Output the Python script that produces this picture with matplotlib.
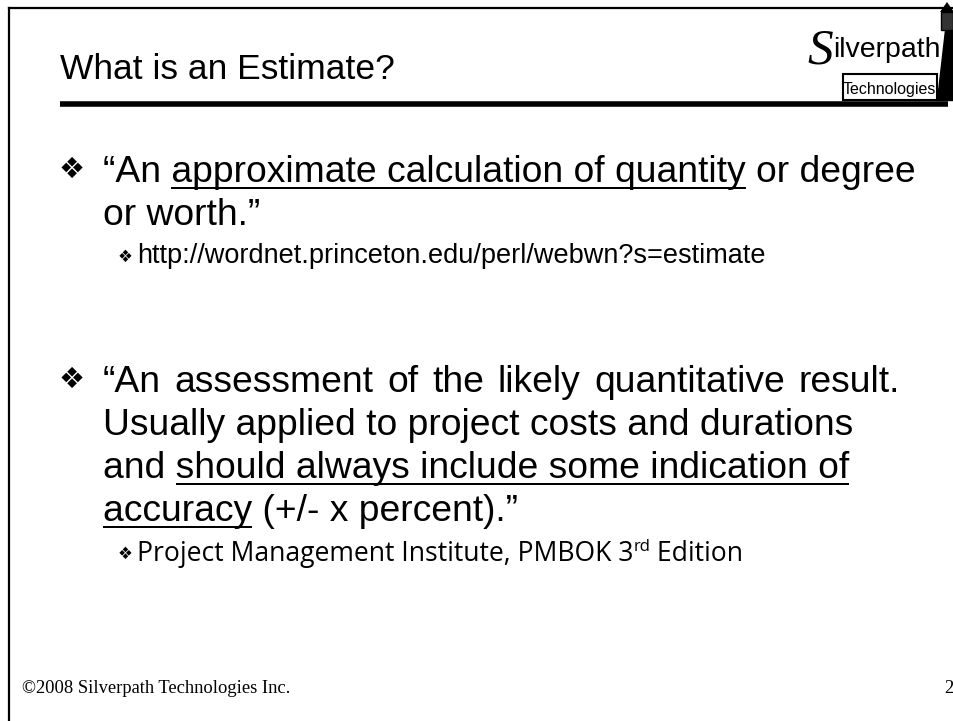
import matplotlib
matplotlib.use("Agg")
import matplotlib.pyplot as plt
from matplotlib.patches import Rectangle, Polygon

# ---- slide content ----
title = "What is an Estimate?"
bullet1_lines = [
    [("\u201cAn ", False), ("approximate calculation of quantity", True), (" or degree", False)],
    [("or worth.\u201d", False)],
]
sub1 = "http://wordnet.princeton.edu/perl/webwn?s=estimate"
bullet2_lines = [
    [("\u201cAn assessment of the likely quantitative result.", False)],
    [("Usually applied to project costs and durations", False)],
    [("and ", False), ("should always include some indication of", True)],
    [("accuracy", True), (" (+/- x percent).\u201d", False)],
]
sub2_parts = ["Project Management Institute, PMBOK 3", "rd", " Edition"]
footer = "\u00a92008 Silverpath Technologies Inc."
page_no = "2"
logo_main = ("S", "ilverpath")
logo_sub = "Technologies"

W, H = 954, 721
fig = plt.figure(figsize=(W / 100, H / 100), dpi=100)
ax = fig.add_axes([0, 0, 1, 1])
ax.set_xlim(0, W)
ax.set_ylim(H, 0)
ax.axis("off")
renderer = fig.canvas.get_renderer()

SANS = ["Liberation Sans", "DejaVu Sans"]


def width(s, **kw):
    t1 = ax.text(0, 0, s + "|", **kw)
    t2 = ax.text(0, 0, "|", **kw)
    w = t1.get_window_extent(renderer).width - t2.get_window_extent(renderer).width
    t1.remove()
    t2.remove()
    return w


def draw_line(x, y, runs, size, ul_off=6, ul_lw=2.0, target=None):
    full = "".join(r[0] for r in runs)
    kw = dict(family=SANS, fontsize=size)
    if target is None:
        ax.text(x, y, full, va="baseline", ha="left", color="black", **kw)
        prefix = ""
        for txt, ul in runs:
            start = width(prefix, **kw) if prefix else 0.0
            prefix += txt
            end = width(prefix, **kw)
            if ul:
                ax.plot([x + start, x + end], [y + ul_off, y + ul_off], color="black",
                        lw=ul_lw * 0.72, solid_capstyle="butt")
    else:
        words = full.split(" ")
        natural = width(full, **kw)
        extra = (target - natural) / max(len(words) - 1, 1)
        cx = x
        sp = width(" ", **kw)
        for wd in words:
            ax.text(cx, y, wd, va="baseline", ha="left", color="black", **kw)
            cx += width(wd, **kw) + sp + extra


def bullet(x, y, size):
    ax.text(x, y, "\u2756", family=["DejaVu Sans"], fontsize=size, va="baseline", ha="left", color="black")


# ---- frame ----
ax.plot([9, 9], [8, H], color="black", lw=1.6)
ax.plot([9, W], [8, 8], color="black", lw=1.6)

# ---- title ----
ax.text(60, 79, title, family=SANS, fontsize=25.5, va="baseline", ha="left")
ax.plot([60, 948], [104, 104], color="black", lw=4.0, solid_capstyle="butt")

# ---- logo ----
ax.add_patch(Rectangle((843, 74), 94, 26, facecolor="white", edgecolor="black", lw=1.5, zorder=3))
ax.text(807, 63, logo_main[0], family=["Liberation Serif"], style="italic", fontsize=37,
        va="baseline", ha="left", zorder=4)
ax.text(833, 57, logo_main[1], family=SANS, fontsize=20.5, va="baseline", ha="left", zorder=4)
ax.text(889, 94, logo_sub, family=SANS, fontsize=11.5, va="baseline", ha="center", zorder=4)
# lighthouse
ax.add_patch(Polygon([[937, 100], [954, 100], [954, 30], [945, 30]], closed=True,
                     facecolor="black", edgecolor="black", zorder=4))
ax.add_patch(Rectangle((941, 12), 12, 18, facecolor="#333333", edgecolor="black", lw=1, zorder=4))
ax.add_patch(Polygon([[940, 12], [954, 12], [947, 2]], closed=True, facecolor="black", zorder=4))

# ---- bullet 1 ----
BODY = 26.8
LX = 103
bullet(59, 178, 21)
draw_line(LX, 182, bullet1_lines[0], BODY)
draw_line(LX, 225, bullet1_lines[1], BODY)

bullet(118, 262, 12)
ax.text(137, 263, sub1, family=SANS, fontsize=19.5, va="baseline", ha="left")

# ---- bullet 2 ----
bullet(59, 388, 21)
ys = [392, 435, 478, 521]
for i, (y, runs) in enumerate(zip(ys, bullet2_lines)):
    draw_line(LX, y, runs, BODY, target=(900 - LX) if i == 0 else None)

bullet(118, 559, 12)
OS = ["Open Sans", "DejaVu Sans"]
S2 = 19.1
x0 = 137
ax.text(x0, 561, sub2_parts[0], family=OS, fontsize=S2, va="baseline", ha="left")
x1 = x0 + width(sub2_parts[0], family=OS, fontsize=S2)
ax.text(x1, 551, sub2_parts[1], family=OS, fontsize=12, va="baseline", ha="left")
x2 = x1 + width(sub2_parts[1], family=OS, fontsize=12)
ax.text(x2, 561, sub2_parts[2], family=OS, fontsize=S2, va="baseline", ha="left")

# ---- footer ----
ax.text(22, 693, footer, family=["Liberation Serif"], fontsize=13.3, va="baseline", ha="left")
ax.text(953, 693, page_no, family=["Liberation Serif"], fontsize=13.3, va="baseline", ha="right")

fig.savefig("out.png", dpi=100)
